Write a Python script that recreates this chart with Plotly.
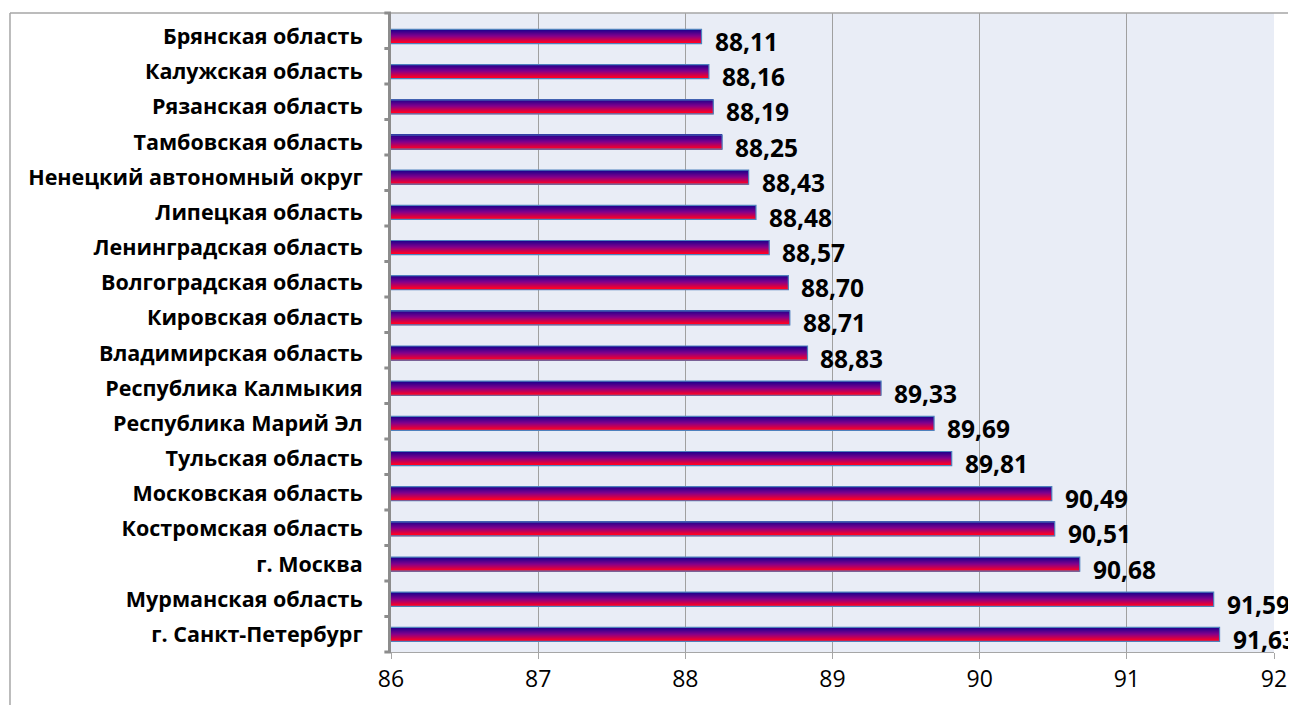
import plotly.graph_objects as go

# regions, top to bottom as in the chart
regions = [
    "Брянская область",
    "Калужская область",
    "Рязанская область",
    "Тамбовская область",
    "Ненецкий автономный округ",
    "Липецкая область",
    "Ленинградская область",
    "Волгоградская область",
    "Кировская область",
    "Владимирская область",
    "Республика Калмыкия",
    "Республика Марий Эл",
    "Тульская область",
    "Московская область",
    "Костромская область",
    "г. Москва",
    "Мурманская область",
    "г. Санкт-Петербург",
]
values = [88.11, 88.16, 88.19, 88.25, 88.43, 88.48, 88.57, 88.70, 88.71,
          88.83, 89.33, 89.69, 89.81, 90.49, 90.51, 90.68, 91.59, 91.63]
x_ticks = [86, 87, 88, 89, 90, 91, 92]

FONT = "Open Sans"


def blend(c1, c2, t):
    return tuple(round(a + (b - a) * t) for a, b in zip(c1, c2))


# vertical gradient of each bar: navy on top, purple, red at the bottom
stops = [(25, 0, 140), (130, 0, 140), (255, 0, 35)]
n_stripes = 14
bar_w = 0.4
stripe_w = bar_w / n_stripes

fig = go.Figure()

for i in range(n_stripes):
    t = i / (n_stripes - 1)
    if t < 0.5:
        c = blend(stops[0], stops[1], t * 2)
    else:
        c = blend(stops[1], stops[2], (t - 0.5) * 2)
    fig.add_trace(
        go.Bar(
            x=values,
            y=regions,
            orientation="h",
            width=stripe_w * 1.35,
            offset=-bar_w / 2 + i * stripe_w,
            marker=dict(color="rgb(%d,%d,%d)" % c, line=dict(width=0)),
            showlegend=False,
            hoverinfo="skip",
        )
    )

# outline of the bars
fig.add_trace(
    go.Bar(
        x=values,
        y=regions,
        orientation="h",
        width=bar_w,
        offset=-bar_w / 2,
        marker=dict(color="rgba(0,0,0,0)", line=dict(width=1.2, color="#4F81BD")),
        showlegend=False,
        hovertemplate="%{y}: %{x:.2f}<extra></extra>",
    )
)

# value labels
for r, v in zip(regions, values):
    fig.add_annotation(
        x=v,
        y=r,
        text=f"{v:.2f}".replace(".", ","),
        showarrow=False,
        xanchor="left",
        xshift=11,
        yshift=-5,
        font=dict(family=FONT, size=24.5, color="black", weight="bold"),
    )

# chart frame (top and left edges visible)
fig.add_shape(type="line", xref="paper", yref="paper",
              x0=-0.4315, x1=1.1, y0=1, y1=1,
              line=dict(color="#A6A6A6", width=1.5))
fig.add_shape(type="line", xref="paper", yref="paper",
              x0=-0.4315, x1=-0.4315, y0=1, y1=-0.1,
              line=dict(color="#A6A6A6", width=1.5))

# page body adds 8px around the figure, so the figure is 8px smaller
fig.update_layout(
    width=1288,
    height=697,
    margin=dict(l=383, r=22, t=5, b=53),
    paper_bgcolor="white",
    plot_bgcolor="#E9EDF6",
    barmode="overlay",
    font=dict(family=FONT, color="black"),
    xaxis=dict(
        range=[86, 92],
        tickvals=x_ticks,
        showgrid=True,
        gridcolor="#A0A0A0",
        gridwidth=1.2,
        showline=True,
        linecolor="#A6A6A6",
        linewidth=1.2,
        ticks="outside",
        ticklen=6,
        tickcolor="#A6A6A6",
        tickfont=dict(size=23),
        zeroline=False,
        automargin=False,
        fixedrange=True,
    ),
    yaxis=dict(
        autorange="reversed",
        showline=True,
        linecolor="#8C8C8C",
        linewidth=3,
        ticks="",
        tickfont=dict(size=21.5, weight="bold"),
        ticklabelstandoff=21,
        automargin=False,
        fixedrange=True,
    ),
)

# category boundary ticks on the y axis (Excel style)
for k in range(len(regions) + 1):
    fig.add_shape(type="line", xref="paper", yref="paper",
                  x0=-0.0075, x1=0, y0=k / len(regions), y1=k / len(regions),
                  line=dict(color="#8C8C8C", width=3))

fig.write_html("out.html")
